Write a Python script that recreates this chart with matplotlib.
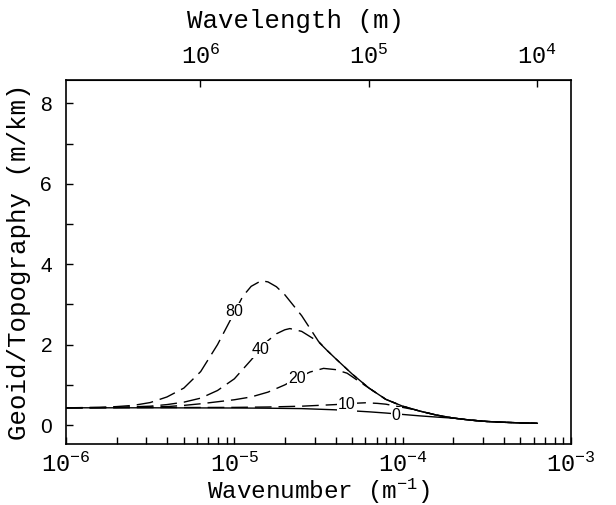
import numpy as np
import matplotlib
matplotlib.use("Agg")
import matplotlib.pyplot as plt
from matplotlib.ticker import MultipleLocator, NullLocator, FixedLocator

plt.rcParams['lines.scale_dashes'] = False

# log10 of wavenumber (1/m) and geoid/topography ratio (m/km)
# common high-wavenumber tail shared by all curves
tail_logk = [-4.45, -4.4, -4.3, -4.2, -4.1, -4.0, -3.9, -3.8, -3.7, -3.6, -3.5, -3.4, -3.3, -3.2]
tail_val = [1.86, 1.66, 1.27, 0.92, 0.64, 0.47, 0.35, 0.25, 0.175, 0.125, 0.09, 0.07, 0.055, 0.045]

te80_logk = [-6.0, -5.8, -5.7, -5.6, -5.5, -5.4, -5.3, -5.2, -5.1, -5.0, -4.95, -4.9, -4.84,
             -4.8, -4.75, -4.7, -4.6, -4.5]
te80_val = [0.43, 0.44, 0.46, 0.49, 0.56, 0.70, 0.92, 1.33, 2.0, 2.80, 3.20, 3.45, 3.59,
            3.56, 3.44, 3.24, 2.72, 2.08]

te40_logk = [-6.0, -5.7, -5.5, -5.4, -5.3, -5.2, -5.1, -5.0, -4.9, -4.85, -4.8, -4.75, -4.7,
             -4.67, -4.6, -4.55, -4.5]
te40_val = [0.43, 0.44, 0.47, 0.51, 0.57, 0.67, 0.86, 1.15, 1.62, 1.87, 2.10, 2.27, 2.37,
            2.40, 2.33, 2.20, 2.07]

te20_logk = [-6.0, -5.6, -5.4, -5.3, -5.2, -5.1, -5.0, -4.9, -4.8, -4.7, -4.63, -4.55,
             -4.47, -4.4, -4.33, -4.25]
te20_val = [0.43, 0.44, 0.46, 0.49, 0.53, 0.58, 0.63, 0.70, 0.82, 1.00, 1.16, 1.32,
            1.41, 1.38, 1.29, 1.06]

te10_logk = [-6.0, -5.0, -4.8, -4.6, -4.5, -4.4, -4.3, -4.22, -4.15, -4.1, -4.05, -4.0, -3.95]
te10_val = [0.43, 0.44, 0.45, 0.47, 0.49, 0.51, 0.54, 0.555, 0.54, 0.52, 0.48, 0.44, 0.40]

te0_logk = [-6.0, -5.5, -5.0, -4.8, -4.6, -4.4, -4.2, -4.1, -4.0, -3.9, -3.8, -3.72]
te0_val = [0.43, 0.43, 0.425, 0.42, 0.41, 0.38, 0.33, 0.30, 0.265, 0.23, 0.20, 0.178]

curves = [
    ("80", te80_logk, te80_val, True),
    ("40", te40_logk, te40_val, True),
    ("20", te20_logk, te20_val, True),
    ("10", te10_logk, te10_val, True),
    ("0", te0_logk, te0_val, False),
]
label_pos = {"80": (-5.0, 2.83), "40": (-4.847, 1.88), "20": (-4.627, 1.17),
             "10": (-4.333, 0.52), "0": (-4.039, 0.24)}

mono = 'Liberation Mono'
sans = 'Liberation Sans'

fig = plt.figure(figsize=(6.16, 5.05), dpi=100)
ax = fig.add_axes([66 / 616, 61 / 505, 505 / 616, 364 / 505])

for name, lk, v, dashed in curves:
    lk = np.array(lk)
    v = np.array(v)
    # join each curve onto the shared tail
    mask = np.array(tail_logk) > lk[-1]
    lk = np.concatenate([lk, np.array(tail_logk)[mask]])
    v = np.concatenate([v, np.array(tail_val)[mask]])
    if dashed:
        ax.plot(10 ** lk, v, color='black', lw=1.0, dashes=(12, 5))
    else:
        ax.plot(10 ** lk, v, color='black', lw=1.0)
    lx, ly = label_pos[name]
    ax.text(10 ** lx, ly, name, family=sans, fontsize=11.5, ha='center', va='center',
            bbox=dict(facecolor='white', edgecolor='none', pad=0.8), zorder=5)

ax.set_xscale('log')
ax.set_xlim(1e-6, 1e-3)
ax.set_ylim(-0.47, 8.58)

ax.set_xticks([1e-6, 1e-5, 1e-4, 1e-3],
              labels=[r'$\mathregular{10^{-6}}$', r'$\mathregular{10^{-5}}$',
                      r'$\mathregular{10^{-4}}$', r'$\mathregular{10^{-3}}$'])
ax.yaxis.set_major_locator(FixedLocator([0, 2, 4, 6, 8]))
ax.yaxis.set_minor_locator(MultipleLocator(1))
ax.tick_params(which='both', direction='in', top=False, right=False, length=5, width=1.0)
ax.tick_params(axis='x', which='major', labelsize=17, pad=6, labelfontfamily=mono)
ax.tick_params(axis='y', which='major', labelsize=15, pad=10, labelfontfamily=sans)

ax.set_xlabel(r'Wavenumber ($\mathregular{m^{-1}}$)', family=mono, fontsize=17.5, labelpad=0)
ax.set_ylabel('Geoid/Topography (m/km)', family=mono, fontsize=18.5, labelpad=7)

secax = ax.secondary_xaxis('top', functions=(lambda k: 2 * np.pi / k, lambda l: 2 * np.pi / l))
secax.set_xticks([1e6, 1e5, 1e4],
                 labels=[r'$\mathregular{10^{6}}$', r'$\mathregular{10^{5}}$', r'$\mathregular{10^{4}}$'])
secax.xaxis.set_minor_locator(NullLocator())
secax.tick_params(direction='in', length=5, width=1.0, labelsize=17, pad=8, labelfontfamily=mono)
secax.set_xlabel('Wavelength (m)', family=mono, fontsize=18.5, labelpad=12)
secax.xaxis.label.set_x(0.455)

for s in ax.spines.values():
    s.set_linewidth(1.2)

fig.savefig('out.png', dpi=100)
